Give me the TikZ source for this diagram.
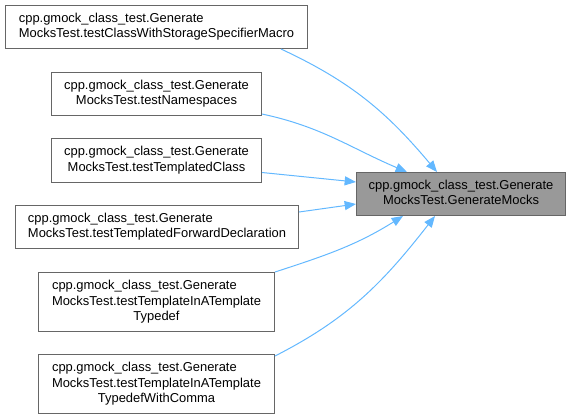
\documentclass[tikz,border=0pt]{standalone}
\usepackage{fontspec}
\setmainfont{Liberation Sans}
\usepackage{xcolor}
\usetikzlibrary{arrows.meta,calc}
\definecolor{edgeblue}{HTML}{63B8FF}
\definecolor{boxgrey}{HTML}{666666}
\definecolor{hitgrey}{HTML}{999999}
% last line centred, the others flush left
\newcommand{\calllbl}[2]{\begin{tabular}{@{}l@{}}#1\\\multicolumn{1}{@{}c@{}}{#2}\end{tabular}}

\begin{document}
\begin{tikzpicture}[
  x=0.75pt, y=-0.75pt,
  font=\fontsize{9.7}{11.7}\selectfont,
  caller/.style={draw=boxgrey, line width=0.75pt, fill=white, anchor=north west,
                 inner sep=0pt, minimum height=43*0.75pt},
  tall/.style={minimum height=59*0.75pt},
  wd/.style={minimum width=#1*0.75pt},
  callee/.style={caller, fill=hitgrey},
  ar/.style={-{Triangle[length=8.5pt,width=6.8pt]}, draw=edgeblue, line width=0.75pt}]
\useasboundingbox (0,0) rectangle (570,419);
\node[caller, wd=302] (c1) at (5,5) {\calllbl{cpp.gmock\_class\_test.Generate}{MocksTest.testClassWithStorageSpecifierMacro}};
\node[caller, wd=210] (c2) at (51,72) {\calllbl{cpp.gmock\_class\_test.Generate}{MocksTest.testNamespaces}};
\node[caller, wd=210, minimum height=44*0.75pt] (c3) at (51,138) {\calllbl{cpp.gmock\_class\_test.Generate}{MocksTest.testTemplatedClass}};
\node[caller, wd=283] (c4) at (15,205) {\calllbl{cpp.gmock\_class\_test.Generate}{MocksTest.testTemplatedForwardDeclaration}};
\node[caller, tall, wd=236] (c5) at (38,272) {\calllbl{cpp.gmock\_class\_test.Generate\\MocksTest.testTemplateInATemplate}{Typedef}};
\node[caller, tall, wd=236] (c6) at (38,354) {\calllbl{cpp.gmock\_class\_test.Generate\\MocksTest.testTemplateInATemplate}{TypedefWithComma}};
\node[callee, wd=209] (gm) at (356,172) {\calllbl{cpp.gmock\_class\_test.Generate}{MocksTest.GenerateMocks}};
\draw[ar] ($(c1.south east)+(-27,0)$) to[out=-25,in=130] ($(gm.north west)+(81,0)$);
\draw[ar] ($(c2.east)+(0,20)$) to[out=-12,in=157] ($(gm.north west)+(51,0)$);
\draw[ar] ($(c3.east)+(0,12)$) -- ($(gm.west)+(0,-12)$);
\draw[ar] ($(c4.east)+(0,-15)$) -- ($(gm.west)+(0,10)$);
\draw[ar] (c5.north east) to[out=18,in=-148] ($(gm.south west)+(47,0)$);
\draw[ar] ($(c6.north east)+(0,2)$) to[out=27,in=-128] ($(gm.south west)+(79,0)$);
\end{tikzpicture}
\end{document}
